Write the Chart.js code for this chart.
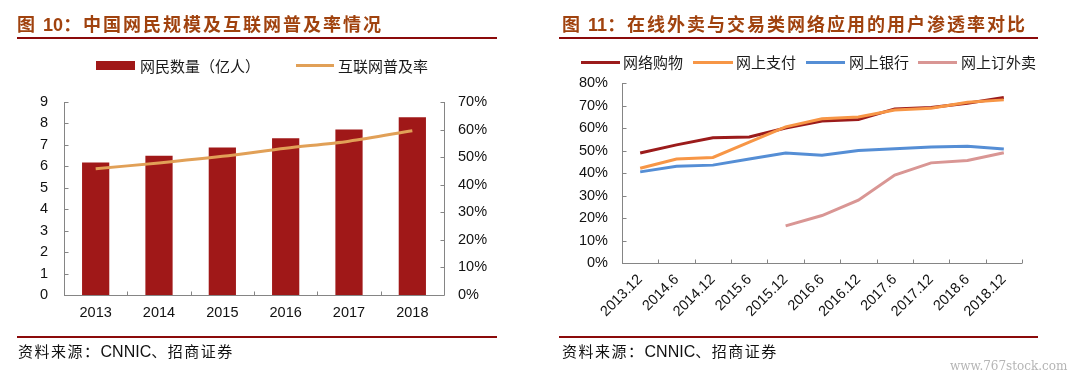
<!DOCTYPE html>
<html><head><meta charset="utf-8">
<script src="https://cdn.jsdelivr.net/npm/chart.js@4"></script>
<style>
html,body{margin:0;padding:0;background:#fff;width:1082px;height:379px;overflow:hidden;position:relative;font-family:"Noto Sans CJK SC","Liberation Sans",sans-serif;}
canvas{position:absolute;top:0;}
.title{position:absolute;top:10px;font-size:18px;font-weight:bold;color:#a0420e;letter-spacing:2px;line-height:26px;white-space:nowrap;}
.title b{font-family:"Liberation Sans",Arial,sans-serif;letter-spacing:0;}
.rule{position:absolute;height:2px;background:#8b0a0a;}
.leg{position:absolute;font-size:15px;color:#1a1a1a;line-height:20px;white-space:nowrap;}
.sw{position:absolute;}
.src{position:absolute;top:341px;font-size:15px;color:#111;letter-spacing:1.5px;line-height:20px;white-space:nowrap;}
.src span{font-family:"Liberation Sans",Arial,sans-serif;letter-spacing:0;font-size:16px;}
.wm{position:absolute;left:950px;top:359px;font-family:"DejaVu Serif",serif;font-size:12px;color:#b5b5b5;}
</style></head>
<body>
<canvas id="c1" width="540" height="379" style="left:0;width:540px;height:379px"></canvas>
<canvas id="c2" width="542" height="379" style="left:540px;width:542px;height:379px"></canvas>

<div class="title" style="left:17px">图 <b>10</b>：中国网民规模及互联网普及率情况</div>
<div class="rule" style="left:17px;width:480px;top:37px"></div>
<div class="title" style="left:562px">图 <b>11</b>：在线外卖与交易类网络应用的用户渗透率对比</div>
<div class="rule" style="left:559px;width:479px;top:37px"></div>

<div class="sw" style="left:96px;top:61px;width:39px;height:9px;background:#a01818"></div>
<div class="leg" style="left:140px;top:56px">网民数量（亿人）</div>
<div class="sw" style="left:296px;top:64px;width:38px;height:3px;background:#e1a057"></div>
<div class="leg" style="left:338px;top:56px">互联网普及率</div>

<div class="sw" style="left:581px;top:61px;width:39px;height:3px;background:#9b1b1b"></div>
<div class="leg" style="left:623px;top:52px">网络购物</div>
<div class="sw" style="left:693px;top:61px;width:40px;height:3px;background:#f79646"></div>
<div class="leg" style="left:736px;top:52px">网上支付</div>
<div class="sw" style="left:806px;top:61px;width:39px;height:3px;background:#558ed5"></div>
<div class="leg" style="left:849px;top:52px">网上银行</div>
<div class="sw" style="left:918px;top:61px;width:39px;height:3px;background:#d99694"></div>
<div class="leg" style="left:961px;top:52px">网上订外卖</div>

<div class="rule" style="left:17px;width:480px;top:336px"></div>
<div class="rule" style="left:559px;width:479px;top:336px"></div>
<div class="src" style="left:18px">资料来源：<span>CNNIC</span>、招商证券</div>
<div class="src" style="left:562px">资料来源：<span>CNNIC</span>、招商证券</div>
<div class="wm">www.767stock.com</div>

<script>
// ---- Data: Figure 10 ----
const years = ['2013', '2014', '2015', '2016', '2017', '2018'];
const netizens = [6.18, 6.49, 6.88, 7.31, 7.72, 8.29];          // 亿人
const penetration = [45.8, 47.9, 50.3, 53.2, 55.8, 59.6];        // %

// ---- Data: Figure 11 ----
const periods = ['2013.12','2014.6','2014.12','2015.6','2015.12','2016.6','2016.12','2017.6','2017.12','2018.6','2018.12'];
const shopping = [48.9, 52.5, 55.7, 56.0, 60.0, 63.1, 63.8, 68.5, 69.1, 71.0, 73.6];
const payment  = [42.1, 46.2, 46.9, 53.7, 60.5, 64.1, 64.9, 68.0, 68.8, 71.4, 72.5];
const banking  = [40.5, 43.0, 43.5, 46.2, 48.9, 47.9, 50.0, 50.8, 51.6, 51.9, 50.7];
const takeout  = [null, null, null, null, 16.5, 21.1, 27.9, 39.1, 44.5, 45.6, 49.0];

const leftTicks = [0,1,2,3,4,5,6,7,8,9];
const pctTicks70 = [0,10,20,30,40,50,60,70];
const pctTicks80 = [0,10,20,30,40,50,60,70,80];

const FONT = {family: '"Liberation Sans", Arial, sans-serif', size: 14.5};
const TXT = '#111';

const inwardAxes = {
  id: 'inwardAxes',
  afterDatasetsDraw(chart) {
    const ctx = chart.ctx, a = chart.chartArea, L = 4;
    ctx.save();
    ctx.strokeStyle = '#858585';
    ctx.lineWidth = 1;
    Object.values(chart.scales).forEach(s => {
      ctx.beginPath();
      if (s.axis === 'x') {
        const y = Math.round(a.bottom) + 0.5;
        ctx.moveTo(a.left, y); ctx.lineTo(a.right, y);
        const n = s.ticks.length, step = (s.right - s.left) / n;
        for (let k = 0; k <= n; k++) {
          const x = Math.round(s.left + k * step) + 0.5;
          ctx.moveTo(x, y); ctx.lineTo(x, y - L);
        }
      } else {
        const left = s.position === 'left';
        const x = Math.round(left ? a.left : a.right) + 0.5;
        ctx.moveTo(x, a.top); ctx.lineTo(x, a.bottom);
        s.ticks.forEach((t, i) => {
          const y = Math.round(s.getPixelForTick(i)) + 0.5;
          ctx.moveTo(x, y); ctx.lineTo(left ? x + L : x - L, y);
        });
      }
      ctx.stroke();
    });
    ctx.restore();
  }
};

function fixed(w, h) {
  return function (scale) { if (w != null) scale.width = w; if (h != null) scale.height = h; };
}

new Chart(document.getElementById('c1'), {
  data: {
    labels: years,
    datasets: [
      {type: 'line', label: '互联网普及率', data: penetration, yAxisID: 'y1', order: 0,
       borderColor: '#e1a057', borderWidth: 3, pointRadius: 0, tension: 0.3, fill: false},
      {type: 'bar', label: '网民数量（亿人）', data: netizens, yAxisID: 'y', order: 1,
       backgroundColor: '#a01818', barPercentage: 0.43, categoryPercentage: 1}
    ]
  },
  options: {
    responsive: false, animation: false, devicePixelRatio: 1,
    layout: {padding: {top: 102, left: 0, right: 0, bottom: 0}},
    plugins: {legend: {display: false}, tooltip: {enabled: false}},
    scales: {
      x: {grid: {display: false, drawTicks: false}, border: {display: false},
          ticks: {font: FONT, color: TXT, padding: 9, maxRotation: 0}, afterFit: fixed(null, 84)},
      y: {position: 'left', min: 0, max: 9, grid: {display: false, drawTicks: false}, border: {display: false},
          afterBuildTicks: s => { s.ticks = leftTicks.map(v => ({value: v})); },
          ticks: {font: FONT, color: TXT, padding: 16}, afterFit: fixed(64, null)},
      y1: {position: 'right', min: 0, max: 70, grid: {display: false, drawTicks: false}, border: {display: false},
          afterBuildTicks: s => { s.ticks = pctTicks70.map(v => ({value: v})); },
          ticks: {font: FONT, color: TXT, padding: 14, callback: v => v + '%'}, afterFit: fixed(96, null)}
    }
  },
  plugins: [inwardAxes]
});

const lineDs = (label, data, color) => ({label, data, borderColor: color, backgroundColor: color,
  borderWidth: 3, pointRadius: 0, tension: 0, fill: false, spanGaps: false});

new Chart(document.getElementById('c2'), {
  type: 'line',
  data: {
    labels: periods,
    datasets: [
      lineDs('网上订外卖', takeout, '#d99694'),
      lineDs('网上银行', banking, '#558ed5'),
      lineDs('网上支付', payment, '#f79646'),
      lineDs('网络购物', shopping, '#9b1b1b')
    ]
  },
  options: {
    responsive: false, animation: false, devicePixelRatio: 1,
    layout: {padding: {top: 83, left: 0, right: 60, bottom: 0}},
    plugins: {legend: {display: false}, tooltip: {enabled: false}},
    scales: {
      x: {offset: true, grid: {display: false, drawTicks: false, offset: true}, border: {display: false},
          ticks: {font: FONT, color: TXT, padding: 8, minRotation: 45, maxRotation: 45, autoSkip: false},
          afterFit: fixed(null, 116)},
      y: {min: 0, max: 80, grid: {display: false, drawTicks: false}, border: {display: false},
          afterBuildTicks: s => { s.ticks = pctTicks80.map(v => ({value: v})); },
          ticks: {font: FONT, color: TXT, padding: 14, callback: v => v + '%'}, afterFit: fixed(82, null)}
    }
  },
  plugins: [inwardAxes]
});
</script>
</body></html>
